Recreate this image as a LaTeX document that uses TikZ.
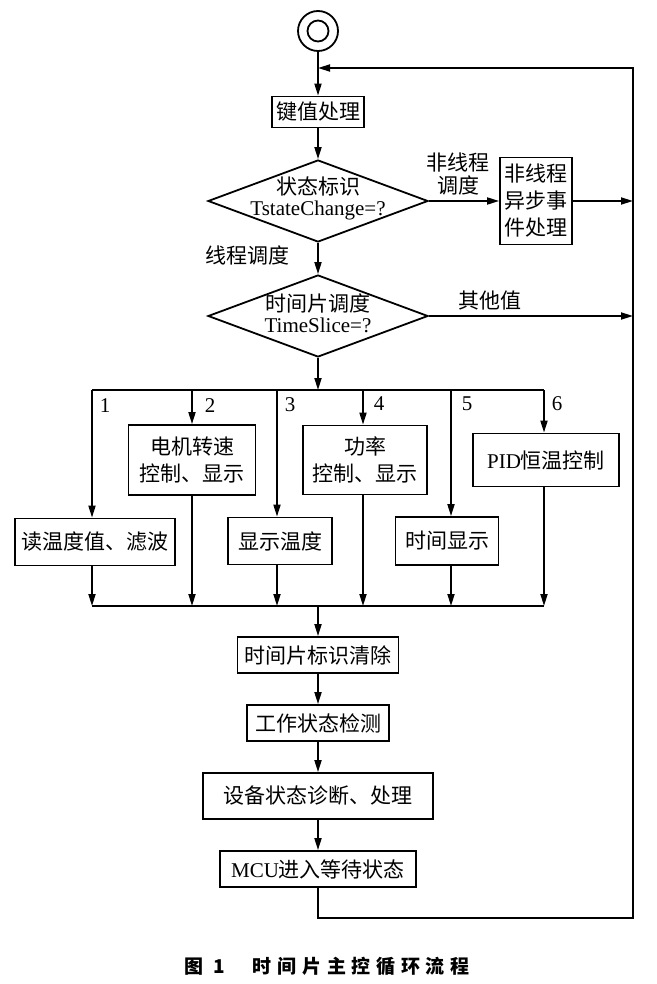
\documentclass[tikz,border=0pt]{standalone}
\usepackage{fontspec}
\setmainfont{Liberation Serif}
\newfontfamily\cjk{Noto Sans CJK SC}
\usetikzlibrary{arrows.meta,shapes.geometric}

\tikzset{
  every node/.style={font=\cjk\fontsize{21}{27}\selectfont},
  box/.style={draw,line width=1.8pt,align=center,inner sep=0pt},
  decide/.style={draw,diamond,line width=1.8pt,inner sep=0pt},
  flow/.style={line width=1.8pt,-{Triangle[length=12pt,width=7pt]}},
  bus/.style={line width=1.8pt},
  num/.style={font=\rmfamily\fontsize{21}{21}\selectfont},
}

\begin{document}
\begin{tikzpicture}[x=1pt,y=-1pt]
  \useasboundingbox (0,0) rectangle (656,984);
  \node[draw,circle,line width=1.8pt,minimum size=40pt,inner sep=0pt] (start) at (318,31) {};
  \draw[line width=1.8pt] (start.center) circle (10.5);
  \node[box,minimum width=92pt,minimum height=31pt] (key) at (318,112) {键值处理};
  \node[decide,minimum width=220pt,minimum height=82pt] (d1) at (318,201) {};
  \node[align=center,font=\cjk\fontsize{21}{21}\selectfont] (d1t) at (318,198)
        {状态标识\\{\rmfamily TstateChange=?}};
  \node[box,minimum width=72pt,minimum height=87pt] (async) at (536,201) {非线程\\异步事\\件处理};
  \node[align=center,font=\cjk\fontsize{21}{23}\selectfont] (nlab) at (458,174) {非线程\\调度};
  \node (tlab) at (247,255) {线程调度};
  \node[decide,minimum width=220pt,minimum height=82pt] (d2) at (318,316) {};
  \node[align=center,font=\cjk\fontsize{21}{21}\selectfont] (d2t) at (318,313)
        {时间片调度\\{\rmfamily TimeSlice=?}};
  \node (olab) at (490,301) {其他值};
  % right hand loop line
  \coordinate (rtop) at (633,68);
  \coordinate (rbot) at (633,918);
  % bus for the six time slices
  \coordinate (t1) at (92,390);  \coordinate (u1) at (92,606);
  \coordinate (t2) at (192,390); \coordinate (u2) at (192,606);
  \coordinate (t3) at (277,390); \coordinate (u3) at (277,606);
  \coordinate (t4) at (363,390); \coordinate (u4) at (363,606);
  \coordinate (t5) at (451,390); \coordinate (u5) at (451,606);
  \coordinate (t6) at (544,390); \coordinate (u6) at (544,606);
  \node[box,minimum width=160pt,minimum height=47pt] (b1) at (95,542) {读温度值、滤波};
  \node[box,minimum width=127pt,minimum height=70pt] (b2) at (192,460) {电机转速\\控制、显示};
  \node[box,minimum width=104pt,minimum height=47pt] (b3) at (280,541) {显示温度};
  \node[box,minimum width=124pt,minimum height=69pt] (b4) at (365,460) {功率\\控制、显示};
  \node[box,minimum width=103pt,minimum height=48pt] (b5) at (447,541) {时间显示};
  \node[box,minimum width=146pt,minimum height=53pt] (b6) at (546,460) {{\rmfamily PID}恒温控制};
  \node[num] (n1) at (105,406) {1};
  \node[num] (n2) at (210,406) {2};
  \node[num] (n3) at (290,405) {3};
  \node[num] (n4) at (379,404) {4};
  \node[num] (n5) at (467,404) {5};
  \node[num] (n6) at (557,404) {6};
  \node[box,minimum width=161pt,minimum height=36pt] (clear) at (318,655) {时间片标识清除};
  \node[box,minimum width=142pt,minimum height=36pt] (check) at (318,723) {工作状态检测};
  \node[box,minimum width=230pt,minimum height=46pt] (diag) at (318,796) {设备状态诊断、处理};
  \node[box,minimum width=196pt,minimum height=36pt] (mcu) at (318,869) {{\rmfamily MCU}进入等待状态};
  \node[font=\cjk\bfseries\fontsize{19}{19}\selectfont] (cap) at (327,966)
        {图\hspace{10pt}1\hspace{28pt}\addfontfeature{LetterSpace=30}时间片主控循环流程};

  \draw[flow] (start) -- (key);
  \draw[flow] (key) -- (d1);
  \draw[flow] (d1) -- (d2);
  \draw[flow] (d1.east) -- (async.west);
  \draw[flow] (async.east) -- (async.east -| rtop);
  \draw[flow] (d2.east) -- (d2.east -| rtop);
  \draw[flow] (mcu.south) |- (rbot) -- (rtop) -- (rtop -| start);
  \draw[flow] (d2.south) -- (d2.south |- t1);
  \draw[bus] (t1) -- (t6);
  \draw[bus] (u1) -- (u6);
  \draw[flow] (t1) -- (t1 |- b1.north);
  \draw[flow] (t2) -- (t2 |- b2.north);
  \draw[flow] (t3) -- (t3 |- b3.north);
  \draw[flow] (t4) -- (t4 |- b4.north);
  \draw[flow] (t5) -- (t5 |- b5.north);
  \draw[flow] (t6) -- (t6 |- b6.north);
  \draw[flow] (t1 |- b1.south) -- (u1);
  \draw[flow] (t2 |- b2.south) -- (u2);
  \draw[flow] (t3 |- b3.south) -- (u3);
  \draw[flow] (t4 |- b4.south) -- (u4);
  \draw[flow] (t5 |- b5.south) -- (u5);
  \draw[flow] (t6 |- b6.south) -- (u6);
  \draw[flow] (clear.north |- u1) -- (clear.north);
  \draw[flow] (clear) -- (check);
  \draw[flow] (check) -- (diag);
  \draw[flow] (diag) -- (mcu);
\end{tikzpicture}
\end{document}
